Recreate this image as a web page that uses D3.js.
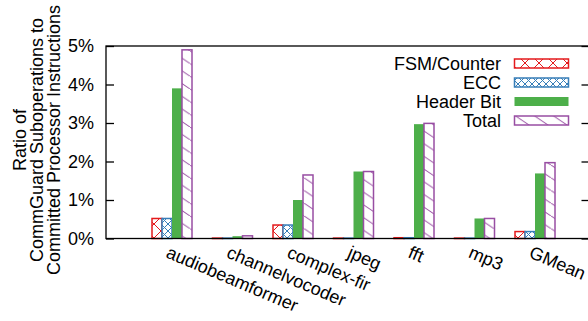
<!DOCTYPE html>
<html><head><meta charset="utf-8">
<script src="https://cdn.jsdelivr.net/npm/d3@7/dist/d3.min.js"></script>
<style>
html,body{margin:0;padding:0;background:#fff;}
svg{display:block;}
text{font-family:"Liberation Sans",Arial,Helvetica,sans-serif;font-size:18px;fill:#000;}
</style></head>
<body>
<script>
const categories = ["audiobeamformer","channelvocoder","complex-fir","jpeg","fft","mp3","GMean"];
const seriesNames = ["FSM/Counter","ECC","Header Bit","Total"];
const fsmCounter = [0.52, 0.01, 0.35, 0.01, 0.02, 0.01, 0.18];
const ecc        = [0.52, 0.01, 0.35, 0.01, 0.02, 0.01, 0.18];
const headerBit  = [3.90, 0.06, 1.00, 1.74, 2.97, 0.52, 1.69];
const total      = [4.90, 0.07, 1.65, 1.74, 2.99, 0.52, 1.97];
const yTicks = [0, 1, 2, 3, 4, 5];
const yTickLabels = ["0%","1%","2%","3%","4%","5%"];
const titleLines = ["Ratio of","CommGuard Suboperations to","Committed Processor Instructions"];

const W = 588, H = 321;
const plot = {left:106, right:589.5, top:46, bottom:238.5};
const colors = ["#e41a1c","#377eb8","#4daf4a","#984ea3"];
const fills = ["url(#patFsm)","url(#patEcc)","#4daf4a","url(#patTotal)"];
const series = [fsmCounter, ecc, headerBit, total];

const svg = d3.select("body").append("svg").attr("width",W).attr("height",H);
const defs = svg.append("defs");

function crossPattern(id, size, color){
  const p = defs.append("pattern").attr("id",id).attr("patternUnits","userSpaceOnUse")
    .attr("width",size).attr("height",size);
  p.append("rect").attr("width",size).attr("height",size).attr("fill","#fff");
  p.append("path").attr("d",`M0,0L${size},${size}M0,${size}L${size},0`)
    .attr("stroke",color).attr("stroke-width",1).attr("fill","none");
}
crossPattern("patFsm", 14, colors[0]);
crossPattern("patEcc", 7, colors[1]);
{
  const pw = 19, ph = 12.7;
  const p = defs.append("pattern").attr("id","patTotal").attr("patternUnits","userSpaceOnUse")
    .attr("width",pw).attr("height",ph);
  p.append("rect").attr("width",pw).attr("height",ph).attr("fill","#fff");
  p.append("path").attr("d",`M${-pw},${-ph}L${2*pw},${2*ph}`)
    .attr("stroke",colors[3]).attr("stroke-width",1).attr("fill","none");
}

const x = d3.scaleLinear().domain([0, categories.length-1]).range([172, 535]);
const y = d3.scaleLinear().domain([0,5]).range([plot.bottom, plot.top]);
const barW = 10;

// bars
series.forEach((vals, s) => {
  svg.append("g").selectAll("rect").data(vals).join("rect")
    .attr("x",(d,i)=> x(i) - 2*barW + s*barW)
    .attr("y",d=> y(d))
    .attr("width",barW)
    .attr("height",d=> y(0)-y(d))
    .attr("fill",fills[s])
    .attr("stroke",colors[s])
    .attr("stroke-width", s===2 ? 0 : 1.5);
});

// frame
svg.append("rect").attr("x",plot.left).attr("y",plot.top)
  .attr("width",plot.right-plot.left).attr("height",plot.bottom-plot.top)
  .attr("fill","none").attr("stroke","#000").attr("stroke-width",1.3);

// y axis
const yAxisL = d3.axisLeft(y).tickValues(yTicks).tickSize(-8).tickFormat((d,i)=>yTickLabels[i]).tickPadding(12);
const gl = svg.append("g").attr("transform",`translate(${plot.left},0)`).call(yAxisL);
gl.select(".domain").remove();
gl.selectAll("line").attr("stroke","#000").attr("stroke-width",1.3);
gl.selectAll("text").attr("font-size",18).attr("font-family",null).attr("fill","#000");
const yAxisR = d3.axisRight(y).tickValues(yTicks).tickSize(-8).tickFormat("");
const gr = svg.append("g").attr("transform",`translate(${plot.right},0)`).call(yAxisR);
gr.select(".domain").remove();
gr.selectAll("line").attr("stroke","#000").attr("stroke-width",1.3);

// x labels
svg.append("g").selectAll("text").data(categories).join("text")
  .attr("transform",(d,i)=>`translate(${x(i)-7},257) rotate(23)`)
  .attr("text-anchor","start")
  .text(d=>d);

// y title
const tg = svg.append("g");
titleLines.forEach((t,i)=>{
  tg.append("text").attr("transform",`translate(${25.5+17*i},140) rotate(-90)`)
    .attr("text-anchor","middle").text(t);
});

// legend
const lg = svg.append("g");
seriesNames.forEach((n,i)=>{
  const cy = 63.5 + 19*i;
  lg.append("text").attr("x",501).attr("y",cy+6.5).attr("text-anchor","end").text(n);
  lg.append("rect").attr("x",514.5).attr("y",cy-4.5).attr("width",54).attr("height",9)
    .attr("fill",fills[i]).attr("stroke",colors[i]).attr("stroke-width", i===2?0:1.5);
});
</script>
</body></html>
